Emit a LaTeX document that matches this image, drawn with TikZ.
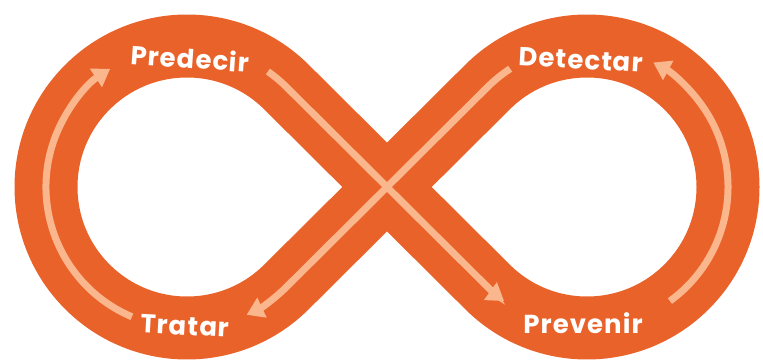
\documentclass[tikz,border=0pt]{standalone}
\usepackage{fontspec}
\setmainfont{Poppins}
\usetikzlibrary{arrows.meta,calc}
\definecolor{rust}{RGB}{233,98,42}
\definecolor{peach}{RGB}{250,182,140}

\begin{document}
\begin{tikzpicture}[x=1pt,y=1pt,
    band/.style={draw=rust,line width=63pt,line join=round},
    flow/.style={draw=peach,line width=7pt,-{Triangle[width=21pt,length=17pt]}},
    tag/.style={fill=rust,text=white,font=\fontsize{26}{30}\selectfont\bfseries\addfontfeatures{LetterSpace=4},rounded corners=14pt,inner xsep=8pt,inner ysep=4pt}]
  \useasboundingbox (0,0) rectangle (763,362);
  \coordinate (cl) at (187,175);
  \coordinate (cr) at (587,175);
  \coordinate (mid) at (387,175);
  % the figure eight
  \draw[band] (mid) -- ($(cl)+(45:141)$) arc[start angle=45,end angle=315,radius=141]
    -- (mid) -- ($(cr)+(135:141)$) arc[start angle=135,end angle=-135,radius=141] -- cycle;
  % light arrows along the band
  \draw[flow] ($(cl)+(247:141)$) arc[start angle=247,end angle=123,radius=141];
  \draw[flow] ($(cl)+(55:141)$) arc[start angle=55,end angle=45,radius=141]
    -- ($(cr)+(225:141)$) arc[start angle=225,end angle=234,radius=141];
  \draw[flow] ($(cr)+(-54:141)$) arc[start angle=-54,end angle=62,radius=141];
  \draw[flow] ($(cr)+(123:141)$) arc[start angle=123,end angle=135,radius=141]
    -- ($(cl)+(-45:141)$) arc[start angle=-45,end angle=-65,radius=141];
  % labels
  \foreach \txt/\pos/\ang [count=\i] in {
    Predecir/{190,304}/-4,
    Detectar/{581,302}/-3,
    Tratar/{185,36}/-3,
    Prevenir/{583,39}/0}{
    \node[tag,rotate=\ang] (lbl\i) at (\pos) {\txt};
  }
\end{tikzpicture}
\end{document}
